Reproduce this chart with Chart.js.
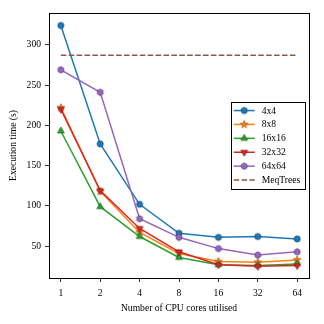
<!DOCTYPE html>
<html>
<head>
<meta charset="utf-8">
<script src="https://cdn.jsdelivr.net/npm/chart.js@4/dist/chart.umd.min.js"></script>
<style>
  html, body { margin: 0; padding: 0; background: #fff; }
  canvas { display: block; }
</style>
</head>
<body>
<canvas id="chart" width="324" height="324"></canvas>
<script>
// data
const cores = [1, 2, 4, 8, 16, 32, 64];
const yTicks = [50, 100, 150, 200, 250, 300];
const seriesLabels = ['4x4', '8x8', '16x16', '32x32', '64x64'];
const time4x4 = [324, 177, 102, 66, 61, 62, 59];
const time8x8 = [222, 118, 67, 41, 31, 30, 33];
const time16x16 = [193, 99, 62, 36, 27, 26, 28];
const time32x32 = [220, 119, 72, 43, 27, 25, 26];
const time64x64 = [269, 241, 84, 61, 47, 39, 43];
const meqTreesLabel = 'MeqTrees';
const meqTreesCores = [1, 64];
const meqTreesTime = [287, 287];

const FONT = { family: '"Liberation Serif", "DejaVu Serif", serif', size: 9.6 };
const colors = ['#1f77b4', '#ff7f0e', '#2ca02c', '#d62728', '#9467bd'];
const edges = ['#174f78', '#a85a10', '#1f6b1f', '#8a1a1a', '#5e4180'];
const meqColor = '#8c564b';

// small canvas glyphs used as point styles (matplotlib-like markers)
function marker(shape, fill, edge) {
  const s = 12;
  const c = document.createElement('canvas');
  c.width = s; c.height = s;
  const ctx = c.getContext('2d');
  ctx.translate(s / 2, s / 2);
  ctx.beginPath();
  const poly = (n, r, start, inner) => {
    const steps = inner ? n * 2 : n;
    for (let i = 0; i < steps; i++) {
      const a = start + i * Math.PI * 2 / steps;
      const rr = inner && i % 2 ? inner : r;
      const px = rr * Math.cos(a), py = rr * Math.sin(a);
      i ? ctx.lineTo(px, py) : ctx.moveTo(px, py);
    }
    ctx.closePath();
  };
  if (shape === 'o') ctx.arc(0, 0, 3.1, 0, Math.PI * 2);
  if (shape === '*') poly(5, 4.0, -Math.PI / 2, 1.6);
  if (shape === '^') poly(3, 3.9, -Math.PI / 2);
  if (shape === 'v') poly(3, 3.9, Math.PI / 2);
  if (shape === 'h') poly(6, 3.3, -Math.PI / 2);
  ctx.fillStyle = fill;
  ctx.fill();
  ctx.lineWidth = 0.8;
  ctx.strokeStyle = edge;
  ctx.stroke();
  return c;
}

const shapes = ['o', '*', '^', 'v', 'h'];
const seriesValues = [time4x4, time8x8, time16x16, time32x32, time64x64];

const datasets = seriesValues.map((vals, i) => ({
  label: seriesLabels[i],
  data: cores.map((c, j) => ({ x: c, y: vals[j] })),
  borderColor: colors[i],
  borderWidth: 1.5,
  pointStyle: marker(shapes[i], colors[i], edges[i]),
  pointRadius: 3,
  tension: 0,
  order: 10 - i,
}));
datasets.push({
  label: meqTreesLabel,
  data: meqTreesCores.map((c, j) => ({ x: c, y: meqTreesTime[j] })),
  borderColor: meqColor,
  borderWidth: 1.5,
  borderDash: [5.5, 2.4],
  pointRadius: 0,
  order: 0,
});

// frame on all four sides + matplotlib-style legend box
const framePlugin = {
  id: 'frame',
  afterDraw(chart) {
    const { ctx, chartArea: a } = chart;
    ctx.save();
    ctx.strokeStyle = '#000';
    ctx.lineWidth = 1;
    ctx.strokeRect(Math.round(a.left) + 0.5, Math.round(a.top) + 0.5,
      Math.round(a.right - a.left), Math.round(a.bottom - a.top));

    const ds = chart.data.datasets;
    ctx.font = FONT.size + 'px ' + FONT.family;
    const pad = 3, handle = 21, gap = 7, row = 13.9;
    const textW = Math.max(...ds.map(d => ctx.measureText(d.label).width));
    const w = pad + handle + gap + textW + 4;
    const h = row * (ds.length - 1) + 17;
    const x0 = a.right - 4.7 - w;
    const y0 = (a.top + a.bottom) / 2 - h / 2;
    ctx.fillStyle = '#fff';
    ctx.fillRect(x0, y0, w, h);
    ctx.strokeRect(Math.round(x0) + 0.5, Math.round(y0) + 0.5, Math.round(w), Math.round(h));
    ds.forEach((d, i) => {
      const cy = y0 + 8.3 + i * row;
      ctx.beginPath();
      ctx.setLineDash(d.borderDash || []);
      ctx.strokeStyle = d.borderColor;
      ctx.lineWidth = d.borderWidth;
      ctx.moveTo(x0 + pad, cy);
      ctx.lineTo(x0 + pad + handle, cy);
      ctx.stroke();
      ctx.setLineDash([]);
      if (d.pointRadius) {
        const img = d.pointStyle;
        ctx.drawImage(img, x0 + pad + handle / 2 - img.width / 2, cy - img.height / 2);
      }
      ctx.fillStyle = '#000';
      ctx.textBaseline = 'middle';
      ctx.fillText(d.label, x0 + pad + handle + gap, cy + 0.5);
    });
    ctx.restore();
  }
};

new Chart(document.getElementById('chart'), {
  type: 'line',
  data: { datasets },
  plugins: [framePlugin],
  options: {
    responsive: false,
    animation: false,
    layout: { padding: { top: 13, right: 15, left: 0, bottom: 0 } },
    plugins: { legend: { display: false }, tooltip: { enabled: false } },
    scales: {
      x: {
        type: 'logarithmic',
        bounds: 'data',
        min: Math.pow(2, -0.3),
        max: Math.pow(2, 6.3),
        afterBuildTicks: s => { s.ticks = cores.map(v => ({ value: v })); },
        afterFit: s => { s.height = 46; },
        ticks: { callback: v => String(v), color: '#000', font: FONT, padding: 6, maxRotation: 0, autoSkip: false },
        grid: { drawOnChartArea: false, tickLength: 4, color: '#000', lineWidth: 0.8 },
        border: { color: '#000', width: 1 },
        title: { display: true, text: 'Number of CPU cores utilised', color: '#000', font: FONT, padding: { top: 0, bottom: 10 } },
      },
      y: {
        type: 'linear',
        bounds: 'data',
        min: 10.5,
        max: 339.5,
        afterBuildTicks: s => { s.ticks = yTicks.map(v => ({ value: v })); },
        afterFit: s => { s.width = 49; },
        ticks: { color: '#000', font: FONT, padding: 4 },
        grid: { drawOnChartArea: false, tickLength: 4, color: '#000', lineWidth: 0.8 },
        border: { color: '#000', width: 1 },
        title: { display: true, text: 'Execution time (s)', color: '#000', font: FONT, padding: { top: 8, bottom: 0 } },
      },
    },
  },
});
</script>
</body>
</html>
